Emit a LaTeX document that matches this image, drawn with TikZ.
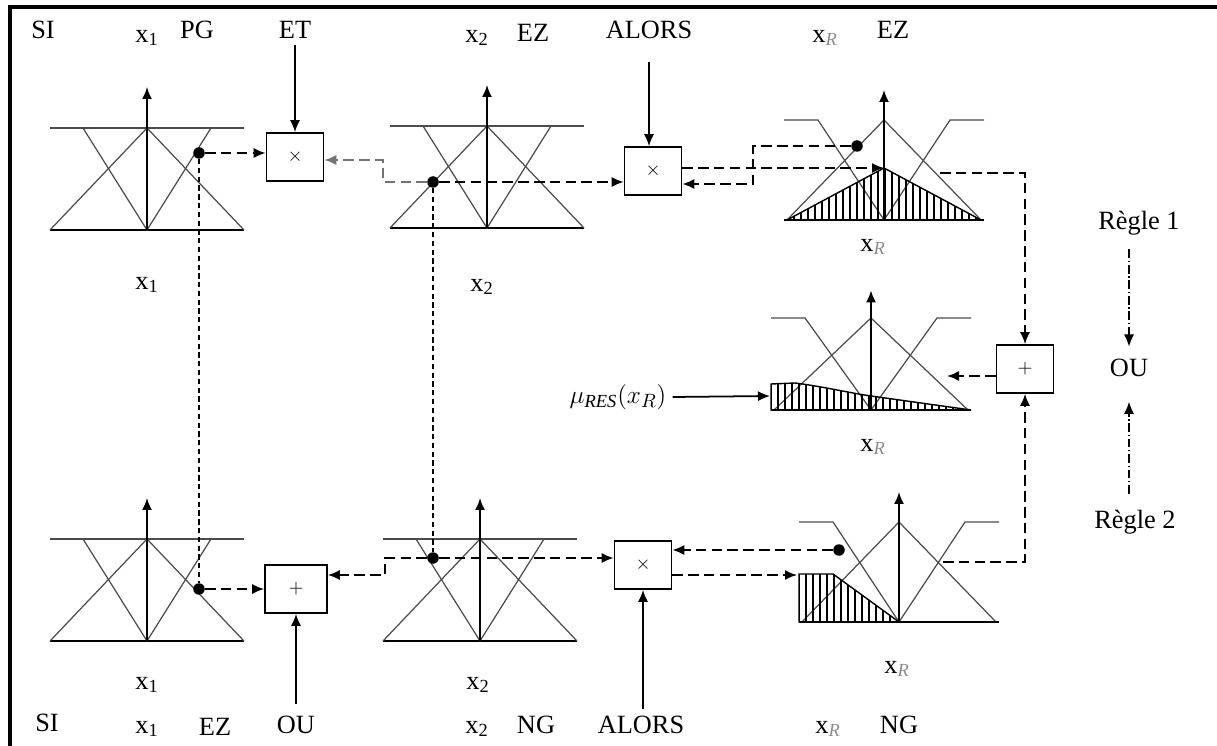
\documentclass[tikz,border=0pt]{standalone}
\usepackage{fontspec}
\setmainfont{Liberation Serif}
\usepackage{tikz}
\usetikzlibrary{arrows.meta,positioning,calc}

\newcommand{\xs}[1]{x\textsubscript{#1}}
\newcommand{\xR}{x\textsubscript{\textcolor{black!45}{\textit{R}}}}

\tikzset{
  lbl/.style={font=\fontsize{15}{17}\selectfont, inner sep=0pt},
  opbox/.style={draw, line width=0.9pt, minimum width=1.14cm, minimum height=0.96cm,
    inner sep=0pt, font=\fontsize{11}{12}\selectfont},
  mf/.style={draw=black!70, line width=0.7pt},
  axe/.style={line width=1pt, -{Latex[length=2.4mm,width=2mm]}},
  sig/.style={line width=1pt, -{Latex[length=2.4mm,width=2mm]}},
  sigd/.style={sig, dash pattern=on 6pt off 3pt},
  vline/.style={line width=0.8pt, dash pattern=on 3pt off 2pt},
  rule/.style={sig, line width=0.7pt, dash pattern=on 5pt off 1.5pt on 0.8pt off 1.5pt},
  dot/.style={circle, fill, inner sep=0pt, minimum size=0.23cm},
  hatch/.style={draw, line width=0.8pt},
  % entree : deux trapezes et un triangle
  mfin/.pic={
    \draw[mf] (-97,-102) -- (97,-102);
    \draw[mf, black] (-97,0) -- (97,0);
    \draw[mf] (-64,-102) -- (0,0) -- (64,-102);
    \draw[mf] (-97,0) -- (0,-102) -- (97,0);
    \draw[axe] (0,0) -- (0,-143);
  },
  % sortie
  mfout/.pic={
    \draw[mf] (-100,-100) -- (-66,-100) -- (0,0) -- (66,-100) -- (100,-100);
    \draw[mf] (-97,0) -- (0,-100) -- (97,0);
    \draw[mf, black] (-100,0) -- (100,0);
    \draw[axe] (0,0) -- (0,-130);
  }
}

\begin{document}
\begin{tikzpicture}[x=0.02cm, y=-0.02cm]
\useasboundingbox (0,0) rectangle (1217,746);
\draw[line width=2.2pt] (10,746) -- (10,7) -- (1217,7);

% fonctions d'appartenance
\pic at (147,230) {mfin};
\pic at (487,228) {mfin};
\pic at (147,641) {mfin};
\pic at (480,641) {mfin};
\pic at (884,220) {mfout};
\pic[yscale=0.92] at (871,410) {mfout};
\pic at (899,622) {mfout};

% zones hachurees
\begin{scope}
  \clip (787,220) -- (884,168) -- (981,220) -- cycle;
  \foreach \hx in {780,787,...,990} \draw[line width=0.7pt] (\hx,160) -- (\hx,230);
\end{scope}
\draw[hatch] (787,220) -- (884,168) -- (981,220) -- cycle;
\begin{scope}
  \clip (771,410) -- (771,384) -- (795,383) .. controls (820,386) and (850,393) .. (871,396) -- (971,410) -- cycle;
  \foreach \hx in {771,778,...,975} \draw[line width=0.7pt] (\hx,375) -- (\hx,415);
\end{scope}
\draw[hatch] (771,410) -- (771,384) -- (795,383) .. controls (820,386) and (850,393) .. (871,396) -- (971,410) -- cycle;
\begin{scope}
  \clip (799,622) -- (799,574) -- (833,574) -- (899,622) -- cycle;
  \foreach \hx in {799,806,...,900} \draw[line width=0.7pt] (\hx,565) -- (\hx,630);
\end{scope}
\draw[hatch] (799,622) -- (799,574) -- (833,574) -- (899,622) -- cycle;

% operateurs
\node[opbox] (box1) at (295,157) {$\times$};
\node[opbox] (box2) at (653,171) {$\times$};
\node[opbox] (box3) at (1025,369) {$+$};
\node[opbox, minimum width=1.24cm] (box4) at (296,589) {$+$};
\node[opbox] (box5) at (643,565) {$\times$};

% points
\node[dot] (dot1) at (199,153) {};
\node[dot] (dot2) at (433,182) {};
\node[dot] (dot3) at (857,146) {};
\node[dot] (dot5) at (199,589) {};
\node[dot] (dot6) at (433,558) {};
\node[dot] (dot7) at (839,550) {};

% textes du haut
\node[lbl] (si1) at (43,30) {SI};
\node[lbl] (x1t) at (147,38) {\xs{1}};
\node[lbl] (pg) at (197,30) {PG};
\node[lbl] (et) at (295,30) {ET};
\node[lbl] (x2t) at (477,38) {\xs{2}};
\node[lbl] (ez2) at (533,33) {EZ};
\node[lbl] (alors1) at (649,30) {ALORS};
\node[lbl] (xrt) at (825,38) {\xR};
\node[lbl] (ez3) at (893,30) {EZ};

% textes sous les courbes
\node[lbl] (x1a) at (147,285) {\xs{1}};
\node[lbl] (x2a) at (482,287) {\xs{2}};
\node[lbl] (xra) at (873,247) {\xR};
\node[lbl] (xrb) at (873,447) {\xR};
\node[lbl] (xrc) at (897,669) {\xR};
\node[lbl] (x1b) at (147,685) {\xs{1}};
\node[lbl] (x2b) at (478,685) {\xs{2}};
\node[lbl, font=\fontsize{15}{17}\selectfont] (mu) at (618,397) {$\mu_{\mathit{RES}}(x_R)$};

% textes du bas
\node[lbl] (si2) at (47,723) {SI};
\node[lbl] (x1c) at (147,729) {\xs{1}};
\node[lbl] (ez1) at (215,727) {EZ};
\node[lbl] (ou1) at (296,725) {OU};
\node[lbl] (x2c) at (477,729) {\xs{2}};
\node[lbl] (ng2) at (536,725) {NG};
\node[lbl] (alors2) at (641,725) {ALORS};
\node[lbl] (xrd) at (828,729) {\xR};
\node[lbl] (ng3) at (899,725) {NG};

% regles
\node[lbl] (regle1) at (1139,223) {Règle 1};
\node[lbl] (ou2) at (1129,368) {OU};
\node[lbl] (regle2) at (1135,522) {Règle 2};

% coordonnees de passage
\coordinate (k1) at (383,160);
\coordinate (k2) at (753,184);
\coordinate (k4) at (385,575);
\coordinate (p3) at (884,168);
\coordinate (p7) at (797,575);
\coordinate (o3) at (940,173);
\coordinate (o7) at (943,562);
\coordinate (in4) at (947,376);
\coordinate (m4) at (770,396);

% liaisons verticales
\draw[vline] (dot1) -- (dot5);
\draw[vline] (dot2) -- (dot6);

% regle 1
\draw[sig] (et.south) ++(0,6) -- (box1.north);
\draw[sig, shorten <=13pt] (alors1.south) -- (alors1.south |- box2.north);
\draw[sigd] (dot1) -- (dot1 -| box1.west);
\draw[sigd, black!55] (dot2) -| (k1) -- (k1 -| box1.east);
\draw[sigd] (dot2) -- (dot2 -| box2.west);
\draw[sigd] (box2.east |- p3) -- (p3);
\draw[sigd] (dot3) -| (k2) -- (k2 -| box2.east);
\draw[sigd] (o3) -| (box3.north);

% regle 2
\draw[sig, shorten <=7pt] (ou1.north) -- (box4.south);
\draw[sig, shorten <=4pt] (box5.south |- alors2.north) -- (box5.south);
\draw[sigd] (dot5) -- (dot5 -| box4.west);
\draw[sigd] (dot6) -| (k4) -- (k4 -| box4.east);
\draw[sigd] (dot6) -- (dot6 -| box5.west);
\draw[sigd] (dot7) -- (dot7 -| box5.east);
\draw[sigd] (box5.east |- p7) -- (p7);
\draw[sigd] (o7) -| (box3.south);

% agregation
\draw[sigd] (in4 -| box3.west) -- (in4);
\draw[sig] (mu.east) ++(6,0) -- (m4);
\draw[rule, shorten <=8pt, shorten >=7pt] (ou2 |- regle1.south) -- (ou2.north);
\draw[rule, shorten <=9pt, shorten >=14pt] (ou2 |- regle2.north) -- (ou2.south);
\end{tikzpicture}
\end{document}
